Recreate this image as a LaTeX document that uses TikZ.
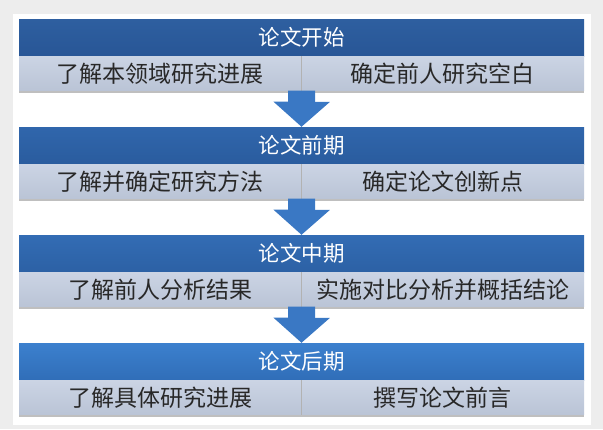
\documentclass[tikz,border=0pt]{standalone}
\usepackage{fontspec}
\newfontfamily\cjk{Noto Sans CJK SC}
\usetikzlibrary{arrows.meta,positioning,shadows}
\definecolor{pagegray}{RGB}{237,237,237}
\definecolor{headAtop}{RGB}{46,95,160}
\definecolor{headAbot}{RGB}{40,86,150}
\definecolor{headBtop}{RGB}{48,102,172}
\definecolor{headBbot}{RGB}{42,92,158}
\definecolor{headCtop}{RGB}{51,108,180}
\definecolor{headCbot}{RGB}{44,97,165}
\definecolor{headDtop}{RGB}{60,128,206}
\definecolor{headDbot}{RGB}{48,110,184}
\definecolor{celltop}{RGB}{203,212,228}
\definecolor{cellbot}{RGB}{186,196,214}
\definecolor{celltext}{RGB}{40,40,40}
\definecolor{arrowblue}{RGB}{58,120,196}
\tikzset{
  headbox/.style={minimum width=565pt, minimum height=37pt, inner sep=0pt,
    text=white, font=\cjk\fontsize{21.5}{21.5}\selectfont},
  cellbox/.style={minimum width=282.5pt, minimum height=34pt, inner sep=0pt,
    top color=celltop, bottom color=cellbot, text=celltext,
    font=\cjk\fontsize{23}{23}\selectfont,
    drop shadow={shadow xshift=0pt, shadow yshift=-2.5pt, opacity=0.5}},
  flowarrow/.style={-{Triangle[length=25pt,width=55pt]}, line width=27pt, arrowblue},
  divln/.style={line width=0.6pt, gray!60},
}

\begin{document}
\begin{tikzpicture}[x=1pt, y=-1pt]
  \fill[pagegray] (0,0) rectangle (603,429);
  \useasboundingbox (0,0) rectangle (603,429);
  \fill[white] (13,14) rectangle (591,425);

  % stage 1
  \node[headbox, top color=headAtop, bottom color=headAbot] (h1) at (301.5,37.5) {论文开始};
  \node[cellbox, anchor=north west] (r1a) at (h1.south west) {了解本领域研究进展};
  \node[cellbox, anchor=north east] (r1b) at (h1.south east) {确定前人研究空白};
  \draw[divln] (r1a.north east) -- (r1a.south east);

  % stage 2
  \node[headbox, top color=headBtop, bottom color=headBbot] (h2) at (301.5,145.5) {论文前期};
  \node[cellbox, anchor=north west] (r2a) at (h2.south west) {了解并确定研究方法};
  \node[cellbox, anchor=north east] (r2b) at (h2.south east) {确定论文创新点};
  \draw[divln] (r2a.north east) -- (r2a.south east);

  % stage 3
  \node[headbox, top color=headCtop, bottom color=headCbot] (h3) at (301.5,253.5) {论文中期};
  \node[cellbox, anchor=north west] (r3a) at (h3.south west) {了解前人分析结果};
  \node[cellbox, anchor=north east] (r3b) at (h3.south east) {实施对比分析并概括结论};
  \draw[divln] (r3a.north east) -- (r3a.south east);

  % stage 4
  \node[headbox, top color=headDtop, bottom color=headDbot] (h4) at (301.5,361.5) {论文后期};
  \node[cellbox, anchor=north west] (r4a) at (h4.south west) {了解具体研究进展};
  \node[cellbox, anchor=north east] (r4b) at (h4.south east) {撰写论文前言};
  \draw[divln] (r4a.north east) -- (r4a.south east);

  \draw[flowarrow] (r1a.south east) -- (h2.north);
  \draw[flowarrow] (r2a.south east) -- (h3.north);
  \draw[flowarrow] (r3a.south east) -- (h4.north);
\end{tikzpicture}
\end{document}
